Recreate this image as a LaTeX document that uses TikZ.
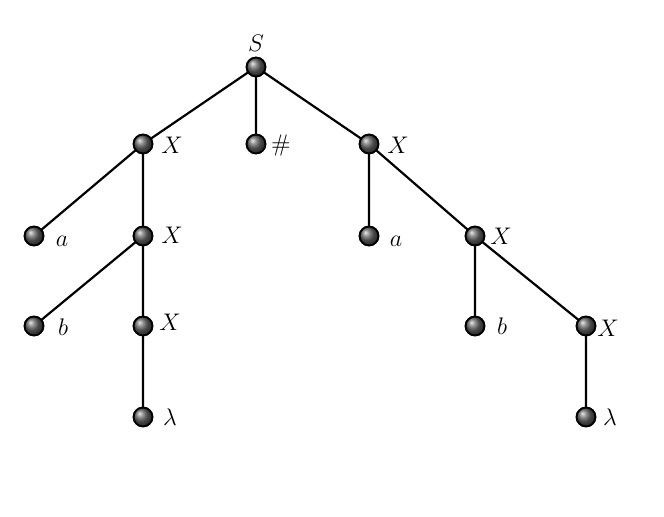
\documentclass[tikz,border=0pt]{standalone}
\begin{document}
\begin{tikzpicture}[x=0.5pt,y=-0.5pt,
  ball/.style={circle,draw=black,line width=0.9pt,minimum size=9.4pt,inner sep=0pt,shading=ball,ball color=black!60},
  edge/.style={line width=1.1pt},
  lbl/.style={inner sep=0pt,font=\fontsize{12}{14}\selectfont}]
\useasboundingbox (0,0) rectangle (664,517);
% tree nodes
\node[ball] (S)  at (256,67) {};
\node[ball] (X1) at (143,144) {};
\node[ball] (H)  at (256,144) {};
\node[ball] (X2) at (369,144) {};
\node[ball] (A1) at (34,236) {};
\node[ball] (X3) at (143,236) {};
\node[ball] (A2) at (369,236) {};
\node[ball] (X4) at (475,236) {};
\node[ball] (B1) at (34,326) {};
\node[ball] (X5) at (143,326) {};
\node[ball] (B2) at (475,326) {};
\node[ball] (X6) at (586,326) {};
\node[ball] (L1) at (143,417) {};
\node[ball] (L2) at (586,417) {};
% edges
\draw[edge] (S.center) -- (X1.center) (S.center) -- (H.center) (S.center) -- (X2.center)
  (X1.center) -- (A1.center) (X1.center) -- (X3.center)
  (X3.center) -- (B1.center) (X3.center) -- (X5.center)
  (X5.center) -- (L1.center)
  (X2.center) -- (A2.center) (X2.center) -- (X4.center)
  (X4.center) -- (B2.center) (X4.center) -- (X6.center)
  (X6.center) -- (L2.center);
% redraw balls above edges
\foreach \n in {S,X1,H,X2,A1,X3,A2,X4,B1,X5,B2,X6,L1,L2}{
  \node[ball] at (\n) {};
}
% labels
\node[lbl] (tS)  at (256,43) {$S$};
\node[lbl] (tX1) at (172,145) {$X$};
\node[lbl] (tH)  at (281,146) {$\#$};
\node[lbl] (tX2) at (398,145) {$X$};
\node[lbl] (tA1) at (62,241) {$a$};
\node[lbl] (tX3) at (172,235) {$X$};
\node[lbl] (tA2) at (396,241) {$a$};
\node[lbl] (tX4) at (501,236) {$X$};
\node[lbl] (tB1) at (63,327) {$b$};
\node[lbl] (tX5) at (170,322) {$X$};
\node[lbl] (tB2) at (502,326) {$b$};
\node[lbl] (tX6) at (608,328) {$X$};
\node[lbl] (tL1) at (170,417) {$\lambda$};
\node[lbl] (tL2) at (610,417) {$\lambda$};
\end{tikzpicture}
\end{document}
